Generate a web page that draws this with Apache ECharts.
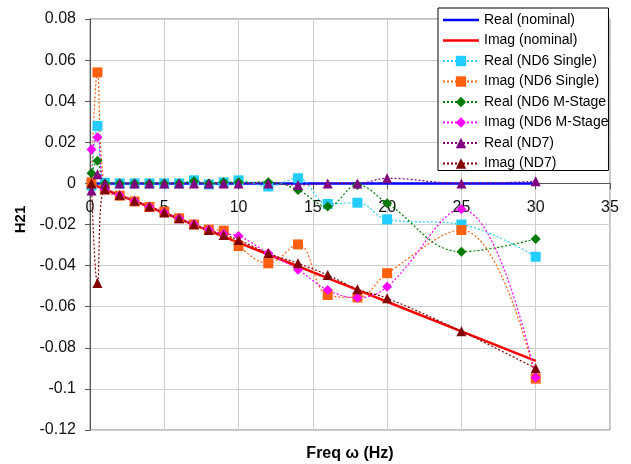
<!DOCTYPE html>
<html>
<head>
<meta charset="utf-8">
<script src="https://cdn.jsdelivr.net/npm/echarts@6/dist/echarts.min.js"></script>
<style>
  html, body { margin: 0; padding: 0; background: #fff; }
  #chart { width: 631px; height: 464px; }
</style>
</head>
<body>
<div id="chart"></div>
<script>
// Frequencies (Hz) at which H21 was evaluated
var freq = [0.1, 0.5, 1, 2, 3, 4, 5, 6, 7, 8, 9, 10, 12, 14, 16, 18, 20, 25, 30];

var realNominal = [0, 0, 0, 0, 0, 0, 0, 0, 0, 0, 0, 0, 0, 0, 0, 0, 0, 0, 0];
var imagNominal = [-0.0003, -0.0014, -0.0029, -0.0058, -0.0086, -0.0115, -0.0144, -0.0173, -0.0202, -0.023, -0.0259, -0.0288, -0.0346, -0.0403, -0.0461, -0.0518, -0.0576, -0.072, -0.0864];

var realND6Single = [-0.001, 0.028, 0.0003, 0, 0, 0, 0, 0, 0.0015, -0.0005, 0.0005, 0.0015, -0.0015, 0.0025, -0.0100, -0.0094, -0.0175, -0.0200, -0.0357];
var imagND6Single = [0.0005, 0.054, -0.003, -0.006, -0.0088, -0.0115, -0.0138, -0.017, -0.020, -0.0225, -0.023, -0.0305, -0.0389, -0.0297, -0.0543, -0.0555, -0.0437, -0.0227, -0.0950];

var realND6MStage = [0.005, 0.011, 0, 0, 0, 0, 0, 0, 0.001, 0, 0.0005, 0.0005, 0.0006, -0.0032, -0.0113, -0.0008, -0.0097, -0.0332, -0.027];
var imagND6MStage = [0.0165, 0.0225, -0.003, -0.0058, -0.0086, -0.0114, -0.0142, -0.017, -0.0199, -0.0226, -0.0245, -0.0256, -0.034, -0.042, -0.0519, -0.0556, -0.0503, -0.0126, -0.0944];

var realND7 = [-0.0035, 0.0044, 0, 0, 0, 0, 0, 0, 0, 0, 0, 0, 0, -0.0008, 0, 0, 0.0025, 0, 0.001];
var imagND7 = [0, -0.0485, -0.0029, -0.0057, -0.0084, -0.0113, -0.0142, -0.017, -0.0199, -0.0227, -0.0251, -0.0275, -0.034, -0.0389, -0.0446, -0.0515, -0.0559, -0.072, -0.090];

var xTicks = { min: 0, max: 35, step: 5 };
var yTicks = { min: -0.12, max: 0.08, step: 0.02 };

// Plot box in pixels; the frequency axis is drawn where H21 = 0
var plot = { left: 90, right: 21, top: 19, bottom: 34, height: 464 - 19 - 34 };
var zeroFromBottom = plot.height * (0 - yTicks.min) / (yTicks.max - yTicks.min);

// Thin horizontal bar used as the legend key of the solid nominal curves
var lineKey = 'path://M0,0 H36 V2.5 H0 Z';

function pairs(ys) {
  return freq.map(function (f, i) { return [f, ys[i]]; });
}

function solid(name, ys, color) {
  return {
    name: name, type: 'line', data: pairs(ys),
    symbol: 'none', showSymbol: false,
    lineStyle: { color: color, width: 2.5 },
    itemStyle: { color: color }
  };
}

function dotted(name, ys, color, symbol, size) {
  return {
    name: name, type: 'line', data: pairs(ys),
    smooth: 0.4,
    symbol: symbol, symbolSize: size, showSymbol: true,
    lineStyle: { color: color, width: 1.2, type: [2, 2] },
    itemStyle: { color: color }
  };
}

var series = [
  solid('Real (nominal)', realNominal, '#0000ff'),
  solid('Imag (nominal)', imagNominal, '#ff0000'),
  dotted('Real (ND6 Single)', realND6Single, '#22ccff', 'rect', 10),
  dotted('Imag (ND6 Single)', imagND6Single, '#ff6010', 'rect', 10),
  dotted('Real (ND6 M-Stage)', realND6MStage, '#007a00', 'diamond', 10),
  dotted('Imag (ND6 M-Stage)', imagND6MStage, '#ff00ff', 'diamond', 10),
  dotted('Real (ND7)', realND7, '#800080', 'triangle', 10),
  dotted('Imag (ND7)', imagND7, '#800000', 'triangle', 10)
];

var legendData = series.map(function (s, i) {
  return i < 2 ? { name: s.name, icon: lineKey } : { name: s.name };
});

var chart = echarts.init(document.getElementById('chart'), null, { renderer: 'canvas' });

chart.setOption({
  animation: false,
  backgroundColor: '#ffffff',
  textStyle: { fontFamily: 'Liberation Sans, Arial, sans-serif' },
  grid: {
    left: plot.left, right: plot.right, top: plot.top, bottom: plot.bottom,
    outerBoundsMode: 'none',
    containLabel: false,
    show: true, borderColor: '#808080', borderWidth: 1
  },
  legend: {
    orient: 'vertical',
    left: 438, top: 8,
    padding: [5, 0, 0, 4],
    itemWidth: 36, itemHeight: 13, itemGap: 6.5,
    backgroundColor: '#ffffff',
    borderColor: '#000000', borderWidth: 1,
    data: legendData,
    textStyle: {
      fontSize: 14, color: '#000',
      width: 126, overflow: 'truncate', ellipsis: ''
    }
  },
  xAxis: {
    type: 'value',
    min: xTicks.min, max: xTicks.max, interval: xTicks.step,
    offset: -zeroFromBottom,
    name: 'Freq ω (Hz)',
    nameLocation: 'middle',
    nameGap: 262,
    nameTextStyle: { fontSize: 16, fontWeight: 'bold', color: '#000' },
    axisLine: { onZero: false, lineStyle: { color: '#555', width: 1 } },
    axisTick: { show: true, inside: false, length: 6, lineStyle: { color: '#555' } },
    axisLabel: { fontSize: 16, color: '#111', margin: 16 },
    splitLine: { show: true, lineStyle: { color: '#cfcfcf', width: 1 } }
  },
  yAxis: {
    type: 'value',
    min: yTicks.min, max: yTicks.max, interval: yTicks.step,
    name: 'H21',
    nameLocation: 'middle',
    nameRotate: 90,
    nameGap: 62,
    nameTextStyle: { fontSize: 15, fontWeight: 'bold', color: '#000', padding: [0, 0, 0, 10] },
    axisLine: { show: true, onZero: false, lineStyle: { color: '#555', width: 1 } },
    axisTick: { show: true, inside: false, length: 5, lineStyle: { color: '#555' } },
    axisLabel: { fontSize: 16, color: '#111', margin: 14 },
    splitLine: { show: true, lineStyle: { color: '#cfcfcf', width: 1 } }
  },
  series: series
});
</script>
</body>
</html>
